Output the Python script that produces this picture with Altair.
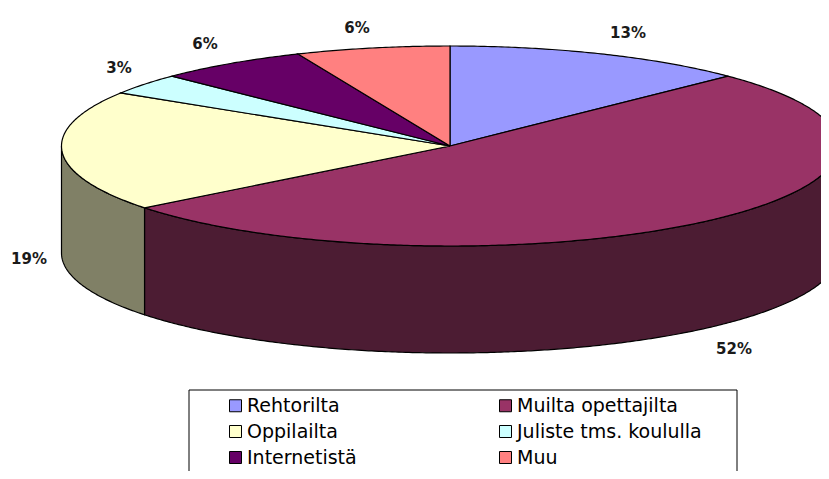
import math
import altair as alt
import pandas as pd

names = ["Rehtorilta", "Muilta opettajilta", "Oppilailta", "Juliste tms. koululla", "Internetistä", "Muu"]
shares = [12.7, 51.7, 19.5, 3.4, 6.3, 6.4]
labels = ["13%", "52%", "19%", "3%", "6%", "6%"]
colors = ["#9999FF", "#993366", "#FFFFCC", "#CCFFFF", "#660066", "#FF8080"]
side_colors = ["#4C4C80", "#4C1C33", "#808066", "#668080", "#330033", "#804040"]
label_x = [628, 734, 29, 119, 205, 357]
label_y = [33, 349, 259, 68, 44, 28]

W, H = 813, 463
CX, CY, RX, RY, DEPTH = 450, 146, 388.5, 100, 107


def pt(deg, drop=0):
    r = math.radians(deg)
    return CX + RX * math.sin(r), CY - RY * math.cos(r) + drop


tops, walls = [], []
start = 0.0
for i, (name, share) in enumerate(zip(names, shares)):
    end = start + share / sum(shares) * 360
    n = max(2, int(end - start) * 2)
    arc = [start + (end - start) * k / n for k in range(n + 1)]
    poly = [(CX, CY)] + [pt(a) for a in arc] + [(CX, CY)]
    for k, (x, y) in enumerate(poly):
        tops.append(dict(name=name, x=x, y=y, k=k))
    lo, hi = max(start, 90), min(end, 270)
    if hi > lo:
        m = max(2, int(hi - lo) * 2)
        wall = [lo + (hi - lo) * k / m for k in range(m + 1)]
        poly = [pt(a) for a in wall] + [pt(a, DEPTH) for a in reversed(wall)] + [pt(lo)]
        for k, (x, y) in enumerate(poly):
            walls.append(dict(name=name, side=side_colors[i], x=x, y=y, k=k))
    start = end

xs = alt.Scale(domain=[8, 8 + W], nice=False, zero=False)
ys = alt.Scale(domain=[8 + H, 8], nice=False, zero=False)
X = alt.X("x:Q", scale=xs, axis=None)
Y = alt.Y("y:Q", scale=ys, axis=None)

wall_layer = alt.Chart(pd.DataFrame(walls)).mark_line(
    stroke="black", strokeWidth=1.2, clip=True, interpolate="linear"
).encode(
    x=X, y=Y, order="k:Q", detail="name:N",
    fill=alt.Fill("side:N", scale=None, legend=None),
)

top_layer = alt.Chart(pd.DataFrame(tops)).mark_line(
    stroke="black", strokeWidth=1.2, clip=True, interpolate="linear"
).encode(
    x=X, y=Y, order="k:Q",
    fill=alt.Fill(
        "name:N",
        scale=alt.Scale(domain=names, range=colors),
        sort=names,
        legend=alt.Legend(
            title=None, orient="none", legendX=218, legendY=388, columns=2,
            direction="horizontal",
            symbolType="square", symbolSize=144, symbolStrokeColor="black",
            symbolStrokeWidth=1, symbolOpacity=1, labelFont="DejaVu Sans", labelFontSize=19,
            labelColor="black", columnPadding=139, rowPadding=6, labelOffset=2,
            labelLimit=300, padding=0,
        ),
    ),
)

text_layer = alt.Chart(pd.DataFrame(dict(t=labels, x=label_x, y=label_y))).mark_text(
    font="DejaVu Sans", fontSize=15, fontWeight="bold", color="#1a1a1a"
).encode(x=X, y=Y, text="t:N")

box_layer = alt.Chart(pd.DataFrame(dict(x=[189], x2=[737], y=[390], y2=[500]))).mark_rect(
    fill="white", stroke="black", strokeWidth=1, clip=True
).encode(x=X, x2="x2:Q", y=Y, y2="y2:Q")

chart = alt.layer(box_layer, wall_layer, top_layer, text_layer).resolve_scale(
    fill="independent"
).properties(
    width=W, height=H, padding=0, autosize=alt.AutoSizeParams(type="none")
).configure_view(stroke=None)

chart.save("out.html", embed_options={"renderer": "svg", "actions": False})
